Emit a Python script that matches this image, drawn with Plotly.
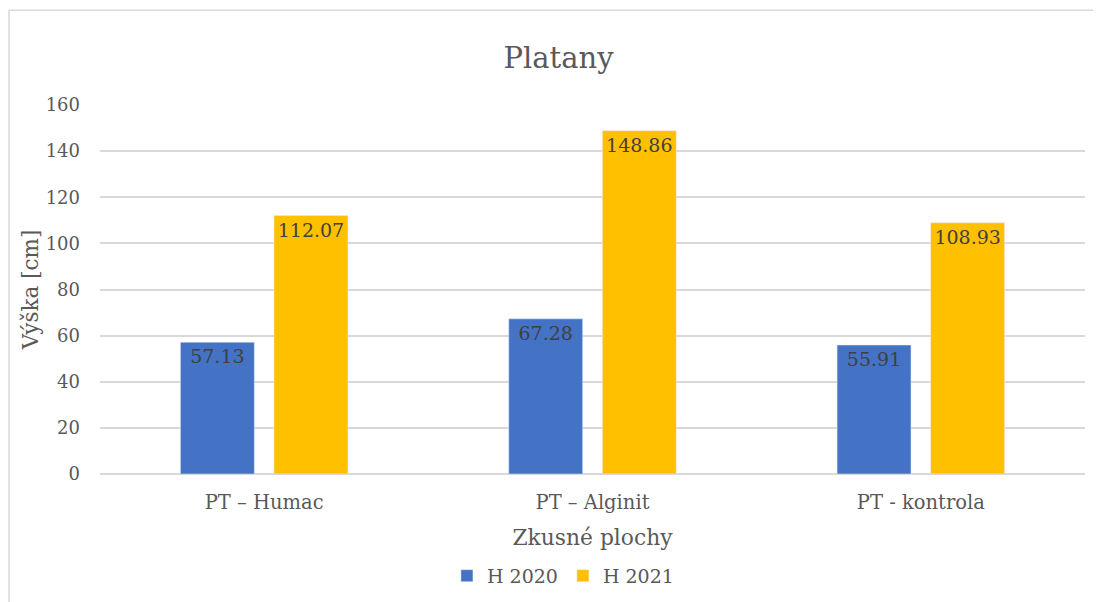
import plotly.graph_objects as go

categories = ["PT – Humac", "PT – Alginit", "PT - kontrola"]
h2020 = [57.13, 67.28, 55.91]
h2021 = [112.07, 148.86, 108.93]

serif = "DejaVu Serif"
grey = "#595959"

fig = go.Figure()
fig.add_trace(go.Bar(
    x=categories, y=h2020, name="H 2020",
    marker=dict(color="#4472C4"),
    text=[f"{v:.2f}" for v in h2020],
    textposition="inside", insidetextanchor="end",
    textfont=dict(family=serif, size=19, color="#404040"),
))
fig.add_trace(go.Bar(
    x=categories, y=h2021, name="H 2021",
    marker=dict(color="#FFC000"),
    text=[f"{v:.2f}" for v in h2021],
    textposition="inside", insidetextanchor="end",
    textfont=dict(family=serif, size=19, color="#404040"),
))

# page body adds an 8px offset, so margins are shifted by 8
fig.update_layout(
    width=1101, height=602,
    margin=dict(l=92, r=24, t=97, b=136),
    paper_bgcolor="white", plot_bgcolor="white",
    font=dict(family=serif, color=grey, size=18),
    title=dict(text="Platany", x=0.5, xanchor="center", y=0.917, yanchor="middle",
               font=dict(family=serif, size=29, color=grey)),
    barmode="group", bargap=0.43, bargroupgap=0.21,
    uniformtext=dict(mode="show", minsize=10),
    legend=dict(orientation="h", x=0.47, xanchor="center", y=-0.276, yanchor="middle",
                font=dict(family=serif, size=19, color=grey), traceorder="normal"),
    xaxis=dict(showgrid=False, showline=False, ticks="", ticklabelstandoff=14,
               tickfont=dict(family=serif, size=19.5, color=grey),
               title=dict(text="Zkusné plochy", standoff=17,
                          font=dict(family=serif, size=21.8, color=grey))),
    yaxis=dict(range=[0, 160], dtick=20, showgrid=True, gridcolor="#D9D9D9", gridwidth=1.5,
               zeroline=True, zerolinecolor="#D9D9D9", zerolinewidth=1.5,
               ticks="", ticklabelstandoff=19,
               tickfont=dict(family=serif, size=18, color=grey),
               title=dict(text="Výška [cm]", standoff=1,
                          font=dict(family=serif, size=21.5, color=grey))),
)

fig.add_shape(type="rect", xref="paper", yref="paper",
              x0=-0.0924, x1=1.03, y0=-0.36, y1=1.257,
              line=dict(color="#D9D9D9", width=1.5), fillcolor="rgba(0,0,0,0)", layer="below")

fig.write_html("out.html")
